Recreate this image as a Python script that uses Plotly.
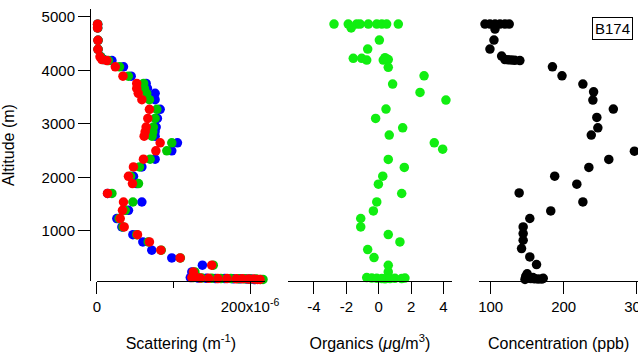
import plotly.graph_objects as go

# ---------------- data ----------------
# Scattering (units of 1e-6 m^-1), three wavelengths sharing the altitude grid
alt_scat = [4860, 4790, 4560, 4390, 4250, 4200, 4180, 4065, 3890, 3755,
            3660, 3570, 3450, 3270, 3100, 2940, 2850, 2770, 2645, 2495,
            2340, 2195, 2020, 1885, 1700, 1540, 1385, 1230, 1075, 930,
            795, 640, 495, 360, 235,
            150, 130, 120, 115, 110, 110, 105, 105, 100, 100, 95, 95]
scat_red = [0.8, 0.8, 1.3, 1.3, 4, 6.5, 13, 24, 34, 52,
            52, 54, 58.7, 68.6, 66.5, 64.3, 63, 61.7, 82.6, 77,
            60.8, 47.7, 41.2, 46.4, 13.8, 34.7, 33.4, 30.4, 35.6, 53,
            68.6, 83.5, 108.7, 150, 126,
            128, 124, 135, 146, 158, 170, 182, 190, 198, 205, 210, 213]
scat_green = [1.0, 1.0, 1.5, 1.5, 5, 8, 15, 29.5, 41, 61,
              62, 65, 68.6, 78.3, 76, 73.8, 73, 72, 97.8, 91.3,
              69.5, 55.6, 44, 54.3, 19.6, 47, 37, 29, 34, 52,
              67, 84, 109, 152, 128,
              130, 126, 137, 150, 162, 175, 185, 193, 200, 208, 214, 217]
scat_blue = [1.0, 1.0, 1.5, 1.5, 5, 9, 19.6, 34.7, 44.7, 64.3,
             66, 76, 76, 82.6, 79, 77.4, 76, 76, 105.2, 97.8,
             76, 58.7, 47.8, 52, 14, 58.7, 41.2, 26, 32.6, 47,
             60, 71.7, 97.8, 137.8, 124,
             125, 122, 132, 143, 155, 167, 178, 187, 196, 201, 205, 207]

# Organics (ug/m3)
alt_org = [4863, 4863, 4863, 4863, 4863, 4863, 4863, 4863, 4863, 4790,
           4564, 4396, 4222, 4222, 4190, 4234, 4200, 4190, 4054, 3897,
           3742, 3586, 3443, 3275, 3101, 2925, 2789, 2645, 2527, 2335,
           2185, 2022, 1873, 1699, 1542, 1374, 1232, 1075, 932, 794,
           652, 503, 359, 234,
           130, 120, 115, 110, 105, 110, 115, 110, 120]
organics = [-2.76, -1.88, -1.36, -1.15, -0.64, -0.12, 0.19, 0.49, 1.21, -1.7,
            0.04, -0.68, -1.57, -1.05, -0.74, 0.39, 0.59, 0.28, 0.59, 2.80,
            0.86, 2.55, 4.15, 0.45, -0.19, 1.48, 0.65, 3.43, 3.95, 0.59,
            1.58, 0.25, -0.02, 1.42, -0.12, -0.33, -1.11, -1.11, 0.59, 1.31,
            -0.68, -0.29, 0.59, 0.59,
            -0.74, -0.43, -0.12, 0.19, 0.39, 0.70, 1.0, 1.42, 1.62]

# Concentration (ppb)
alt_conc = [4863, 4863, 4863, 4863, 4863, 4863, 4770, 4564, 4396, 4265,
            4200, 4195, 4190, 4185, 4180, 4065, 3897, 3742, 3598, 3443,
            3275, 3120, 2925, 2789, 2490, 2335, 2185, 2022, 1873, 1710,
            1542, 1374, 1232, 1075, 951, 826, 671, 514, 372,
            200, 150, 120, 110, 105, 100, 100, 95, 130, 115]
concentration = [92.2, 99, 105.9, 112.7, 119.5, 125.4, 105.9, 104.5, 99, 115,
                 119.5, 124, 128.6, 133, 140, 184.6, 197.7, 226.3, 241, 240,
                 268, 245.4, 246.8, 237.8, 296.9, 261.8, 234.5, 187.7, 218, 139,
                 226.3, 182.3, 153.6, 144.5, 144.5, 144.5, 142.3, 153.6, 162.8,
                 150, 148, 152, 155, 160, 165, 170, 147, 158, 172]

alt_ticks = [1000, 2000, 3000, 4000, 5000]
scat_ticks = [0, 200]
scat_ticktext = ["0", "200x10<sup>-6</sup>"]
org_ticks = [-4, -2, 0, 2, 4]
org_ticktext = ["-4", "-2", "0", "2", "4"]
conc_ticks = [100, 200, 300]

# ---------------- figure ----------------
FONT = "Liberation Sans, Arial, sans-serif"
MS = 9.5

fig = go.Figure()
fig.add_trace(go.Scatter(x=scat_blue, y=alt_scat, mode="markers", xaxis="x", yaxis="y",
                         marker=dict(color="#0000ff", size=MS), cliponaxis=False))
fig.add_trace(go.Scatter(x=scat_green, y=alt_scat, mode="markers", xaxis="x", yaxis="y",
                         marker=dict(color="#00c800", size=MS), cliponaxis=False))
fig.add_trace(go.Scatter(x=scat_red, y=alt_scat, mode="markers", xaxis="x", yaxis="y",
                         marker=dict(color="#ff0000", size=MS), cliponaxis=False))
fig.add_trace(go.Scatter(x=organics, y=alt_org, mode="markers", xaxis="x2", yaxis="y",
                         marker=dict(color="#11ee11", size=MS), cliponaxis=False))
fig.add_trace(go.Scatter(x=concentration, y=alt_conc, mode="markers", xaxis="x3", yaxis="y",
                         marker=dict(color="#000000", size=MS), cliponaxis=False))

axis_common = dict(showline=True, linecolor="black", linewidth=1, ticks="outside",
                   ticklen=12, tickwidth=1, tickcolor="black", showgrid=False,
                   zeroline=False, ticklabeloverflow="allow",
                   tickfont=dict(size=15, family=FONT, color="black"))

XT = 23  # x-axis title standoff (px)

fig.update_layout(
    width=638, height=357,
    margin=dict(l=85, r=0, t=0, b=76, autoexpand=False),
    paper_bgcolor="white", plot_bgcolor="white",
    showlegend=False,
    font=dict(family=FONT, size=15, color="black"),
    yaxis=dict(domain=[0, 0.968], range=[65, 5144], anchor="free", position=0.00904,
               tickmode="array", tickvals=alt_ticks, automargin=False,
               title=dict(text="Altitude (m)", font=dict(size=16), standoff=22),
               **axis_common),
    xaxis=dict(domain=[0.02116, 0.3255], range=[-0.3, 219.6], anchor="y",
               tickmode="array", tickvals=scat_ticks, ticktext=scat_ticktext,
               minor=dict(ticks="outside", ticklen=6, tickcolor="black",
                          tickmode="array", tickvals=[100], showgrid=False),
               automargin=True,
               title=dict(text="Scattering (m<sup>-1</sup>)", font=dict(size=16), standoff=XT),
               **axis_common),
    xaxis2=dict(domain=[0.3671, 0.6631], range=[-5.6, 4.506], anchor="y",
                tickmode="array", tickvals=org_ticks, ticktext=org_ticktext,
                automargin=True,
                title=dict(text="Organics (<i>μ</i>g/m<sup>3</sup>)", font=dict(size=16), standoff=XT),
                **axis_common),
    xaxis3=dict(domain=[0.7130, 1.0], range=[84.4, 301.8], anchor="y",
                tickmode="array", tickvals=conc_ticks,
                automargin=True,
                title=dict(text="Concentration (ppb)", font=dict(size=16), standoff=XT),
                **axis_common),
    annotations=[dict(text="B174", xref="paper", yref="paper", x=0.954, y=0.9,
                      xanchor="center", yanchor="middle", showarrow=False,
                      bordercolor="black", borderwidth=1, borderpad=2,
                      font=dict(size=15, family=FONT, color="black"))],
)

fig.write_html("out.html",
               config={"displayModeBar": False},
               post_script="document.body.style.margin='0';document.body.style.overflow='hidden';")
